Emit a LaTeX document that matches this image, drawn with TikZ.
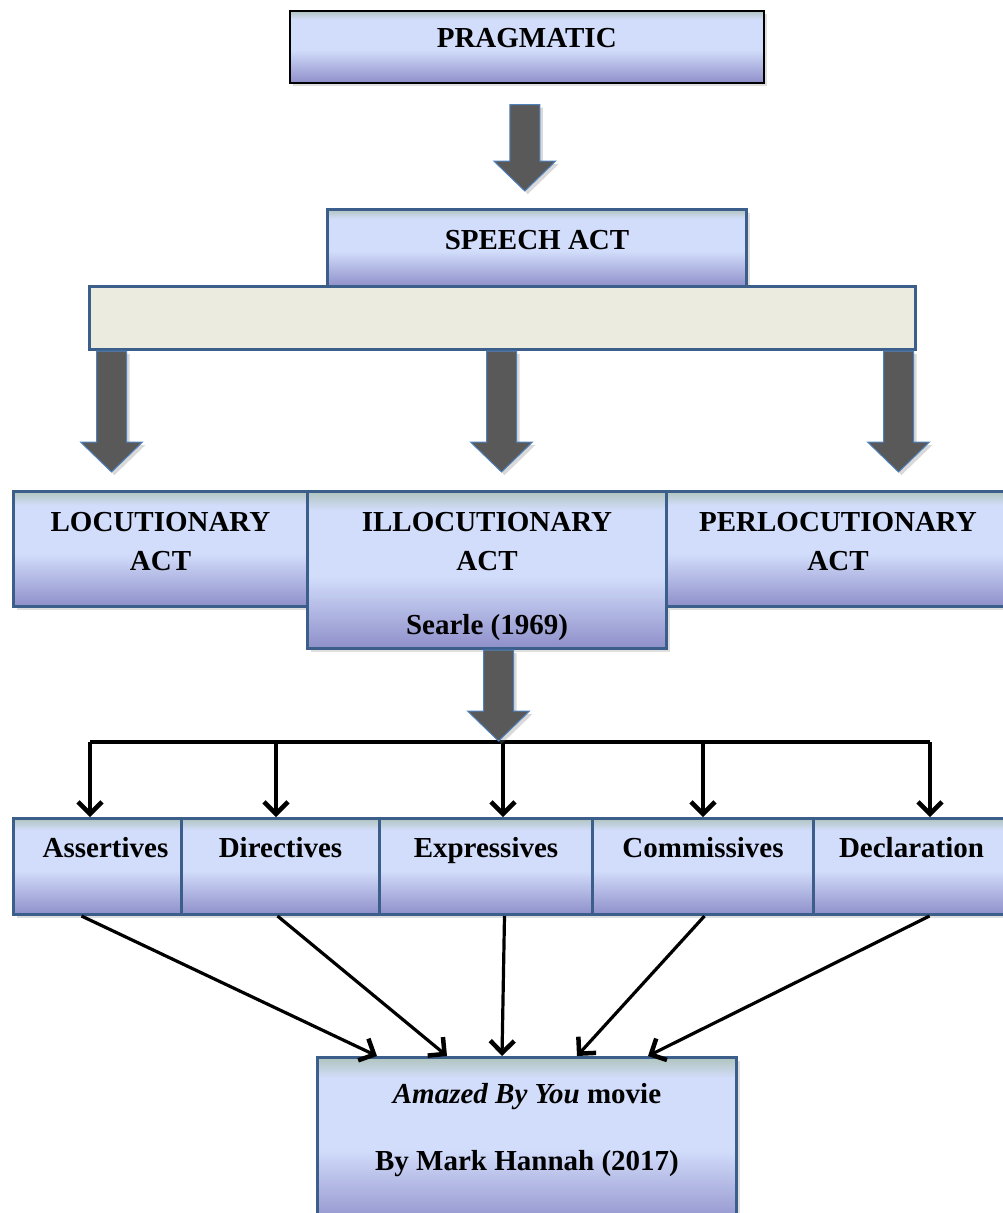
\documentclass[tikz,border=0pt]{standalone}
\usepackage{fontspec}
\setmainfont{Liberation Serif}
\usetikzlibrary{positioning, calc, arrows.meta, shadows}
\definecolor{boxline}{RGB}{59,94,138}
\definecolor{boxbot}{RGB}{142,143,201}
\definecolor{boxmid}{RGB}{210,221,251}
\definecolor{boxcap}{RGB}{176,196,190}
\definecolor{barfill}{RGB}{236,235,224}
\definecolor{arrfill}{RGB}{89,89,89}
\definecolor{arrline}{RGB}{79,129,189}
\pgfdeclareverticalshading{boxfade}{100bp}{color(0bp)=(boxbot); color(25bp)=(boxbot); color(48bp)=(boxmid); color(69bp)=(boxmid); color(75bp)=(boxcap); color(100bp)=(boxcap)}
\tikzstyle{bluebox} = [rectangle, anchor=north west, inner sep=0pt, draw=boxline, line width=3pt, shading=boxfade, drop shadow={opacity=0.25, shadow xshift=3pt, shadow yshift=-3pt}]
\tikzstyle{topbox} = [bluebox, draw=black, line width=1.5pt]
\tikzstyle{barbox} = [rectangle, anchor=north west, inner sep=0pt, draw=boxline, line width=3pt, fill=barfill]
\tikzstyle{txt} = [inner sep=0pt, font=\fontsize{29}{39}\selectfont\bfseries, align=center]
\tikzstyle{bigarrow} = [fill=arrfill, draw=arrline, line width=1pt, drop shadow={opacity=0.3, shadow xshift=3pt, shadow yshift=-3pt}]
\tikzstyle{bus} = [line width=3.2pt]
\tikzstyle{arrow} = [line width=3.2pt, -{Straight Barb[length=12pt,width=24pt,line width=4.5pt]}]
\newcommand{\blockarrow}[2]{%
  \draw[bigarrow] let \p1=#1, \p2=#2 in
    (\x1-15pt,\y1) -- (\x1+15pt,\y1) -- (\x1+15pt,\y2+30pt) -- (\x1+31pt,\y2+30pt)
    -- (\x1,\y2) -- (\x1-31pt,\y2+30pt) -- (\x1-15pt,\y2+30pt) -- cycle;}
\begin{document}
\begin{tikzpicture}[x=1pt, y=-1pt]
	\useasboundingbox (0,0) rectangle (1002,1213);
	%----------------------------------------------------%
	\node(prag) [topbox, minimum width=474, minimum height=72] at (289,10) {};
	\node [txt, below=18pt of prag.north] {PRAGMATIC};
	\node(speech) [bluebox, minimum width=419, minimum height=77] at (326,208) {};
	\node [txt, below=22.5pt of speech.north] {SPEECH ACT};
	\node(bar) [barbox, minimum width=826, minimum height=63] at (88,285) {};
	\blockarrow{([xshift=-2pt,yshift=-21pt]prag.south)}{([yshift=17pt]speech.north)}
	%----------------------------------------------------%
	\node(loc) [bluebox, minimum width=294, minimum height=115] at (12,490) {};
	\node(illoc) [bluebox, minimum width=359, minimum height=157] at (306,490) {};
	\node(perloc) [bluebox, minimum width=343, minimum height=115] at (665,490) {};
	\node [txt, below=22.5pt of loc.north] {LOCUTIONARY\\ACT};
	\node [txt, below=22.5pt of illoc.north] {ILLOCUTIONARY\\ACT\\[25pt]Searle (1969)};
	\node [txt, below=22.5pt of perloc.north] {PERLOCUTIONARY\\ACT};
	\blockarrow{([xshift=-391pt]bar.south)}{([yshift=18pt]loc.north)}
	\blockarrow{([xshift=-1pt]bar.south)}{([yshift=18pt]illoc.north)}
	\blockarrow{([xshift=396pt]bar.south)}{([yshift=18pt]perloc.north)}
	%----------------------------------------------------%
	\node(ass) [bluebox, minimum width=168, minimum height=96] at (12,817) {};
	\node(dir) [bluebox, minimum width=198, minimum height=96] at (180,817) {};
	\node(exp) [bluebox, minimum width=213, minimum height=96] at (378,817) {};
	\node(com) [bluebox, minimum width=221, minimum height=96] at (591,817) {};
	\node(dec) [bluebox, minimum width=196, minimum height=96] at (812,817) {};
	\node [txt, below=20pt of ass.north, xshift=8pt] {Assertives};
	\node [txt, below=20pt of dir.north] {Directives};
	\node [txt, below=20pt of exp.north] {Expressives};
	\node [txt, below=20pt of com.north] {Commissives};
	\node [txt, below=20pt of dec.north] {Declaration};
	\coordinate (b1) at (90,742);
	\coordinate (b2) at (276,742);
	\coordinate (b3) at (503,742);
	\coordinate (b4) at (703,742);
	\coordinate (b5) at (930,742);
	\draw[bus] (b1) -- (b5);
	\draw[arrow] (b1) -- (b1 |- ass.north);
	\draw[arrow] (b2) -- (b2 |- dir.north);
	\draw[arrow] (b3) -- (b3 |- exp.north);
	\draw[arrow] (b4) -- (b4 |- com.north);
	\draw[arrow] (b5) -- (b5 |- dec.north);
	\blockarrow{([xshift=11.5pt]illoc.south)}{([yshift=1pt]b3)}
	%----------------------------------------------------%
	\node(movie) [bluebox, minimum width=419, minimum height=170] at (316,1056) {};
	\node [txt, below=27pt of movie.north] {\textit{Amazed By You} movie\\[28pt]By Mark Hannah (2017)};
	\draw[arrow] ([xshift=-16pt]ass.south) -- ([xshift=61pt]movie.north west);
	\draw[arrow] ([xshift=-3pt]dir.south) -- ([xshift=131pt]movie.north west);
	\draw[arrow] ([xshift=18.5pt]exp.south) -- ([xshift=186pt]movie.north west);
	\draw[arrow] ([xshift=1.5pt]com.south) -- ([xshift=261pt]movie.north west);
	\draw[arrow] ([xshift=18pt]dec.south) -- ([xshift=332pt]movie.north west);
\end{tikzpicture}
\end{document}
